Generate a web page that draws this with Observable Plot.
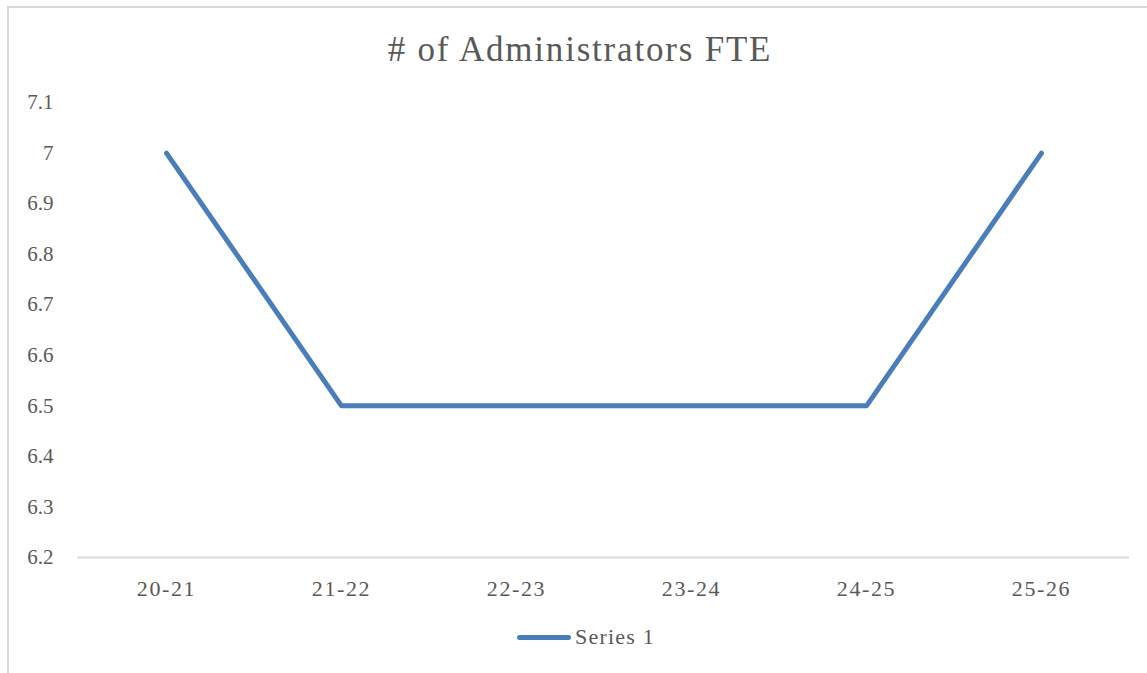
<!DOCTYPE html>
<html>
<head>
<meta charset="utf-8">
<script src="https://cdn.jsdelivr.net/npm/d3@7"></script>
<script src="https://cdn.jsdelivr.net/npm/@observablehq/plot@0.6"></script>
<style>
  html, body { margin: 0; padding: 0; background: #fff; }
  body { width: 1147px; height: 673px; position: relative; overflow: hidden; font-family: "Liberation Serif", "DejaVu Serif", serif; color: #595959; }
  #frame { position: absolute; left: 7px; top: 6px; width: 1160px; height: 700px; border-left: 2px solid #d9d9d9; border-top: 2px solid #d9d9d9; }
  #title { position: absolute; left: 0; top: 30px; width: 1160px; text-align: center; font-size: 35px; letter-spacing: 1.8px; color: #595959; }
  #chart { position: absolute; left: 0; top: 90px; }
  #legend { position: absolute; left: 517px; top: 624px; display: flex; align-items: center; font-size: 22px; letter-spacing: 1.2px; color: #595959; }
  #legend .swatch { width: 54px; height: 5px; background: #4a7ebb; border-radius: 3px; margin-right: 4px; }
  .xlab text { letter-spacing: 1.6px; }
</style>
</head>
<body>
<div id="frame"></div>
<div id="title"># of Administrators FTE</div>
<div id="chart"></div>
<div id="legend"><span class="swatch"></span><span>Series 1</span></div>
<script>
const categories = ["20-21", "21-22", "22-23", "23-24", "24-25", "25-26"];
const series1 = [7, 6.5, 6.5, 6.5, 6.5, 7];
const yTicks = [6.2, 6.3, 6.4, 6.5, 6.6, 6.7, 6.8, 6.9, 7.0, 7.1];

const data = categories.map((c, i) => ({cat: c, value: series1[i]}));

const chart = Plot.plot({
  width: 1147,
  height: 517,
  marginLeft: 77,
  marginRight: 18,
  marginTop: 12,
  marginBottom: 50,
  style: {fontFamily: "'Liberation Serif', 'DejaVu Serif', serif", fontSize: "21px", color: "#595959", background: "transparent"},
  x: {type: "point", domain: categories, padding: 0.5, label: null, tickSize: 0, tickPadding: 23},
  y: {domain: [6.2, 7.1], ticks: yTicks, tickFormat: d => String(+d.toFixed(1)), label: null, tickSize: 0, tickPadding: 24},
  marks: [
    Plot.ruleY([6.2], {stroke: "#d9d9d9", strokeWidth: 2}),
    Plot.line(data, {x: "cat", y: "value", stroke: "#4a7ebb", strokeWidth: 5, strokeLinecap: "round", strokeLinejoin: "round"})
  ]
});
chart.querySelectorAll("g[aria-label='y-axis tick label'] text, g[aria-label='x-axis tick label'] text").forEach(t => t.setAttribute("fill", "#595959"));
const xg = chart.querySelector("g[aria-label='x-axis tick label']");
if (xg) { xg.classList.add("xlab"); xg.setAttribute("font-size", "22"); }
document.getElementById("chart").appendChild(chart);
</script>
</body>
</html>
